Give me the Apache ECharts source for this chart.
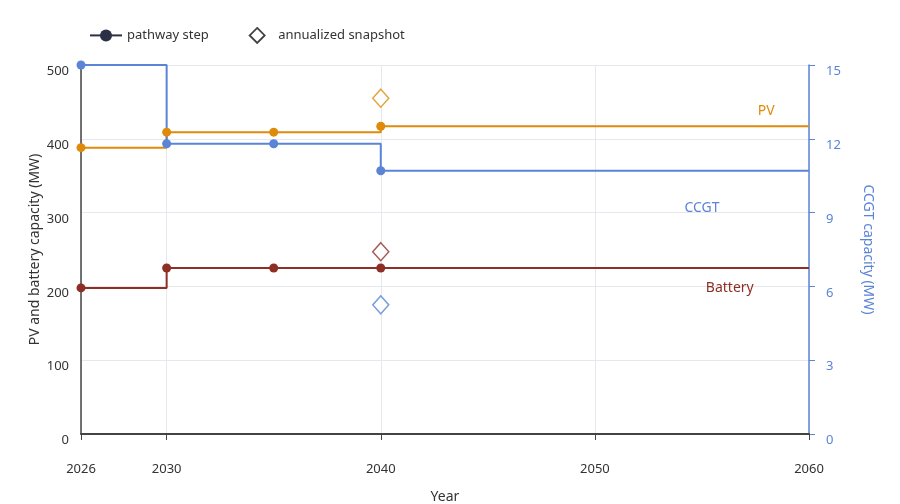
<!DOCTYPE html>
<html>
<head>
<meta charset="utf-8">
<script src="https://cdn.jsdelivr.net/npm/echarts@6/dist/echarts.min.js"></script>
<style>
  html, body { margin: 0; padding: 0; background: #fff; }
  #chart { width: 900px; height: 504px; }
</style>
</head>
<body>
<div id="chart"></div>
<script>
// pathway years (last one is only the end of the step, no marker)
const years = [2026, 2030, 2035, 2040, 2060]
const pvSteps = [388, 409, 409, 417, 417]
const batterySteps = [198, 225, 225, 225, 225]
const ccgtSteps = [15, 11.8, 11.8, 10.7, 10.7]

// annualized snapshot at 2040
const snapYear = 2040
const pvSnap = 455
const batterySnap = 247
const ccgtSnap = 5.25

const xTicks = [2026, 2030, 2040, 2050, 2060]

const PV_COLOR = '#E08A0C'
const BAT_COLOR = '#8E2F25'
const CCGT_COLOR = '#5B84D6'
const FONT = 'Noto Sans'

const chart = echarts.init(document.getElementById('chart'))

const stepData = (vals) => years.map((y, i) => ({
  value: [y, vals[i]],
  symbol: i === years.length - 1 ? 'none' : 'circle'
}))

const stepSeries = (name, vals, color, axis, label, at) => ({
  name: name,
  type: 'line',
  step: 'end',
  yAxisIndex: axis,
  data: stepData(vals),
  symbol: 'circle',
  symbolSize: 9,
  lineStyle: { color: color, width: 2 },
  itemStyle: { color: color },
  z: 3,
  markPoint: {
    symbol: 'circle',
    symbolSize: 0,
    data: [{ coord: at, value: label }],
    label: { show: true, formatter: label, color: color, fontSize: 14, fontFamily: FONT, position: 'inside' }
  }
})

const snapSeries = (name, val, color, axis) => ({
  name: name,
  type: 'scatter',
  yAxisIndex: axis,
  data: [[snapYear, val]],
  symbol: 'diamond',
  symbolSize: [16, 18],
  itemStyle: { color: '#fff', borderColor: color, borderWidth: 1.5 },
  z: 4
})

const option = {
  animation: false,
  textStyle: { fontFamily: FONT },
  legend: {
    data: [
      { name: 'pathway step' },
      {
        name: 'annualized snapshot',
        icon: 'path://M0,-8L8,0L0,8L-8,0Z',
        itemStyle: { color: '#fff', borderColor: '#111', borderWidth: 1.8 }
      }
    ],
    left: 84,
    top: 22,
    itemWidth: 32,
    itemHeight: 15,
    itemGap: 40,
    textStyle: { fontSize: 13, color: '#333', fontFamily: FONT }
  },
  grid: { left: 81, right: 91, top: 65, bottom: 70, outerBoundsMode: 'none' },
  xAxis: {
    type: 'value',
    min: 2026,
    max: 2060,
    name: 'Year',
    nameLocation: 'middle',
    nameGap: 56,
    nameMoveOverlap: false,
    nameTextStyle: { fontSize: 14, color: '#333' },
    axisLine: { show: true, lineStyle: { color: '#444', width: 2 } },
    axisTick: { show: true, length: 6, lineStyle: { color: '#444' }, customValues: xTicks },
    axisLabel: { customValues: xTicks, margin: 29, fontSize: 13, color: '#333', formatter: v => String(v) },
    splitLine: { show: true, lineStyle: { color: '#e6e8ee' } }
  },
  yAxis: [
    {
      type: 'value',
      min: 0,
      max: 500,
      interval: 100,
      name: 'PV and battery capacity (MW)',
      nameLocation: 'middle',
      nameGap: 39,
      nameMoveOverlap: false,
      nameTextStyle: { fontSize: 14, color: '#333' },
      axisLine: { show: true, lineStyle: { color: '#444', width: 1.5 } },
      axisTick: { show: false },
      axisLabel: { fontSize: 13, color: '#333', margin: 12, verticalAlign: 'top' },
      splitLine: { show: true, lineStyle: { color: '#e6e8ee' } }
    },
    {
      type: 'value',
      min: 0,
      max: 15,
      interval: 3,
      position: 'right',
      name: 'CCGT capacity (MW)',
      nameLocation: 'middle',
      nameGap: 52,
      nameMoveOverlap: false,
      nameRotate: -90,
      nameTextStyle: { fontSize: 14, color: CCGT_COLOR },
      axisLine: { show: true, lineStyle: { color: CCGT_COLOR, width: 1.5 } },
      axisTick: { show: true, length: 6, lineStyle: { color: CCGT_COLOR } },
      axisLabel: { fontSize: 13, color: CCGT_COLOR, margin: 17, verticalAlign: 'top' },
      splitLine: { show: false }
    }
  ],
  series: [
    {
      name: 'pathway step', type: 'line', data: [],
      symbol: 'circle', symbolSize: 9,
      lineStyle: { color: '#2b3044', width: 2 }, itemStyle: { color: '#2b3044' }
    },
    {
      name: 'annualized snapshot', type: 'scatter', data: [],
      symbol: 'diamond', symbolSize: 16,
      itemStyle: { color: '#fff', borderColor: '#111', borderWidth: 1.5 }
    },
    stepSeries('PV', pvSteps, PV_COLOR, 0, 'PV', [2058, 438]),
    stepSeries('CCGT', ccgtSteps, CCGT_COLOR, 1, 'CCGT', [2055, 9.2]),
    stepSeries('Battery', batterySteps, BAT_COLOR, 0, 'Battery', [2056.3, 198]),
    snapSeries('PV snapshot', pvSnap, PV_COLOR, 0),
    snapSeries('Battery snapshot', batterySnap, BAT_COLOR, 0),
    snapSeries('CCGT snapshot', ccgtSnap, CCGT_COLOR, 1)
  ]
}

chart.setOption(option)
</script>
</body>
</html>
